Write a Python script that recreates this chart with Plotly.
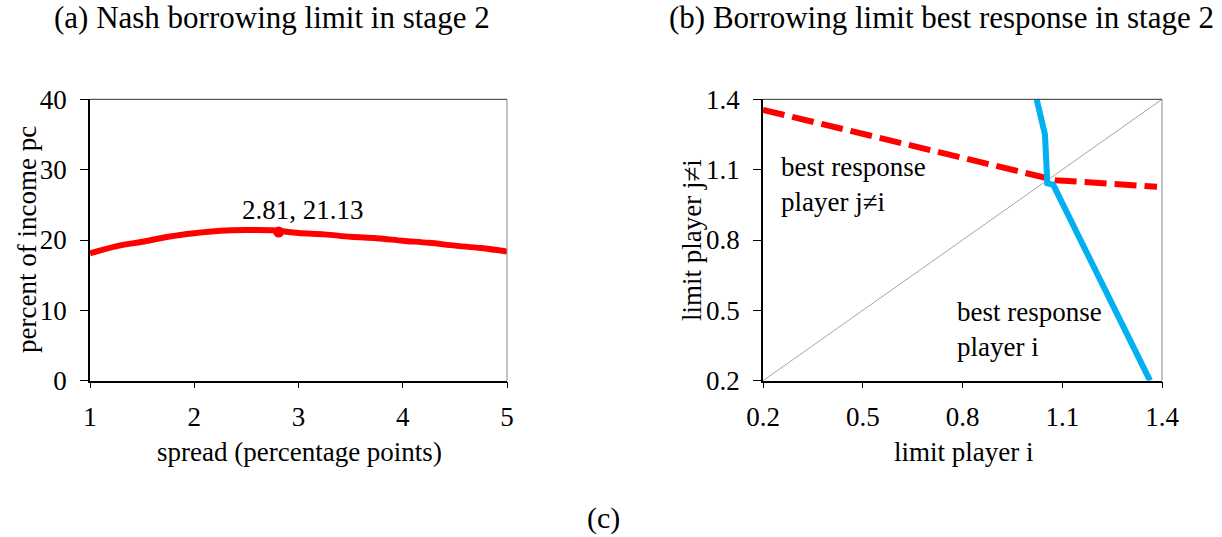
import plotly.graph_objects as go

# ---- data ----
spread_x = [1.0, 1.25, 1.5, 1.75, 2.0, 2.25, 2.5, 2.75, 3.0, 3.25, 3.5, 3.75, 4.0, 4.25, 4.5, 4.75, 5.0]
nash_y = [18.1, 19.1, 19.75, 20.45, 20.95, 21.3, 21.42, 21.38, 21.0, 20.8, 20.45, 20.25, 19.9, 19.6, 19.2, 18.85, 18.35]
nash_pt_x = [2.81]
nash_pt_y = [21.13]
nash_label = ["2.81, 21.13"]

br_j_x = [0.2, 1.06, 1.08, 1.385]
br_j_y = [1.355, 1.062, 1.055, 1.027]
br_i_x = [1.023, 1.048, 1.055, 1.073, 1.364]
br_i_y = [1.4, 1.25, 1.042, 1.035, 0.2]
diag = [0.2, 1.4]

a_xticks = [1, 2, 3, 4, 5]
a_yticks = [0, 10, 20, 30, 40]
b_ticks = [0.2, 0.5, 0.8, 1.1, 1.4]
b_ticklabels = ["0.2", "0.5", "0.8", "1.1", "1.4"]

W, H = 1222, 537
FONT = "Liberation Serif"
FS = 27
RED = "#FF0000"
BLUE = "#00B0F0"

def px(x):
    return x / W

def py(y):
    return 1 - y / H

ax_dom = [px(90), px(507)]
bx_dom = [px(763), px(1162)]
y_dom = [py(380.7), py(99.3)]

fig = go.Figure()

fig.add_trace(go.Scatter(x=spread_x, y=nash_y, mode="lines",
                         line=dict(color=RED, width=6, shape="spline"),
                         xaxis="x", yaxis="y", showlegend=False))
fig.add_trace(go.Scatter(x=nash_pt_x, y=nash_pt_y, mode="markers",
                         marker=dict(color=RED, size=11),
                         xaxis="x", yaxis="y", showlegend=False))

fig.add_trace(go.Scatter(x=diag, y=diag, mode="lines",
                         line=dict(color="#A6A6A6", width=1),
                         xaxis="x2", yaxis="y2", showlegend=False))
fig.add_trace(go.Scatter(x=br_j_x, y=br_j_y, mode="lines",
                         line=dict(color=RED, width=6, dash="22px,8px"),
                         xaxis="x2", yaxis="y2", showlegend=False))
fig.add_trace(go.Scatter(x=br_i_x, y=br_i_y, mode="lines",
                         line=dict(color=BLUE, width=6),
                         xaxis="x2", yaxis="y2", showlegend=False))

tickfont = dict(family=FONT, size=FS, color="black")
common = dict(showgrid=False, zeroline=False, showline=True, linecolor="black",
              linewidth=1.5, ticks="outside", tickcolor="black", tickwidth=1.2,
              tickfont=tickfont, fixedrange=True, automargin=False)

fig.update_layout(
    width=W, height=H,
    margin=dict(l=0, r=0, t=0, b=0),
    paper_bgcolor="white", plot_bgcolor="white",
    font=dict(family=FONT, size=FS, color="black"),
    xaxis=dict(domain=ax_dom, range=[1, 5], tickvals=a_xticks, ticklen=6,
               ticklabelstandoff=5, anchor="y", **common),
    yaxis=dict(domain=y_dom, range=[0, 40], tickvals=a_yticks, ticklen=8,
               ticklabelstandoff=8, anchor="x", **common),
    xaxis2=dict(domain=bx_dom, range=[0.2, 1.4], tickvals=b_ticks, ticktext=b_ticklabels,
                ticklen=6, ticklabelstandoff=5, anchor="y2", **common),
    yaxis2=dict(domain=y_dom, range=[0.2, 1.4], tickvals=b_ticks, ticktext=b_ticklabels,
                ticklen=8, ticklabelstandoff=8, anchor="x2", **common),
)

# box outlines (top/right)
for xd in (ax_dom, bx_dom):
    fig.add_shape(type="line", xref="paper", yref="paper", x0=xd[0], x1=xd[1],
                  y0=y_dom[1], y1=y_dom[1], line=dict(color="#333333", width=1))
    fig.add_shape(type="line", xref="paper", yref="paper", x0=xd[1], x1=xd[1],
                  y0=y_dom[0], y1=y_dom[1], line=dict(color="#888888", width=1))

ann = []
def text(x, y, s, size=FS, angle=0, xanchor="center"):
    ann.append(dict(x=x, y=y, xref="paper", yref="paper", text=s, showarrow=False,
                    font=dict(family=FONT, size=size, color="black"),
                    textangle=angle, xanchor=xanchor, yanchor="middle",
                    align=xanchor if xanchor != "center" else "center"))

text(px(272), py(18), "(a) Nash borrowing limit in stage 2", size=31)
text(px(941), py(18), "(b) Borrowing limit best response in stage 2", size=31)
text(px(603), py(518), "(c)", size=30)
text(px(27), py(240), "percent of income pc", angle=-90)
text(px(299), py(452), "spread (percentage points)")
text(px(692), py(240), "limit player j≠i", angle=-90)
text(px(963), py(452), "limit player i")
text(px(779), py(184), "best response<br>player j≠i", xanchor="left")
text(px(955), py(329), "best response<br>player i", xanchor="left")

ann.append(dict(x=nash_pt_x[0], y=nash_pt_y[0], xref="x", yref="y", text=nash_label[0],
                showarrow=False, xshift=24, yshift=22, yanchor="middle",
                font=dict(family=FONT, size=FS, color="black")))

fig.update_layout(annotations=ann)

fig.write_html("out.html")
